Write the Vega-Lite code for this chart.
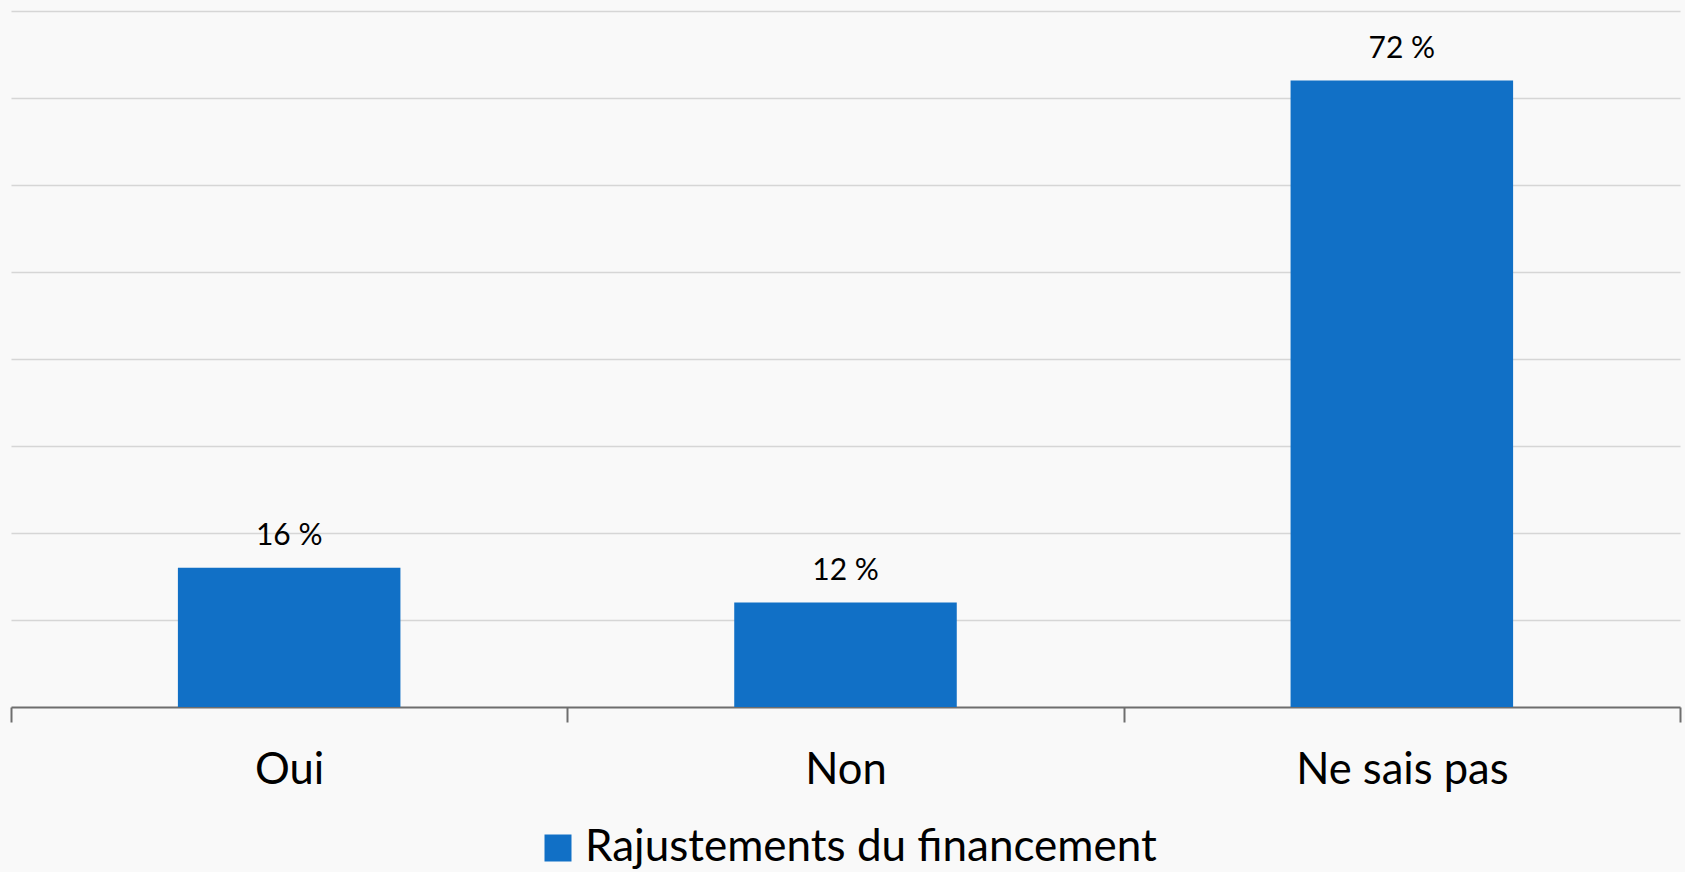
{
  "$schema": "https://vega.github.io/schema/vega-lite/v6.json",
  "width": 1669,
  "height": 696,
  "autosize": {"type": "none"},
  "padding": {"left": 11, "top": 11, "right": 5, "bottom": 165},
  "background": "#f9f9f9",
  "config": {"view": {"stroke": null}, "font": "Lato"},
  "data": {
    "values": [
      {"reponse": "Oui", "pct": 16, "label": "16 %", "serie": "Rajustements du financement"},
      {"reponse": "Non", "pct": 12, "label": "12 %", "serie": "Rajustements du financement"},
      {"reponse": "Ne sais pas", "pct": 72, "label": "72 %", "serie": "Rajustements du financement"}
    ]
  },
  "encoding": {
    "x": {
      "field": "reponse",
      "type": "nominal",
      "sort": null,
      "scale": {"paddingInner": 0, "paddingOuter": 0},
      "axis": {
        "title": null,
        "labelAngle": 0,
        "labelFont": "Lato",
        "labelFontSize": 43.5,
        "labelColor": "#000000",
        "labelBaseline": "alphabetic",
        "labelPadding": 61.6,
        "labelLimit": 1000,
        "tickSize": 15,
        "tickColor": "#6e6e6e",
        "tickWidth": 2,
        "domainColor": "#6e6e6e",
        "domainWidth": 2,
        "tickBand": "extent",
        "grid": false
      }
    },
    "y": {
      "field": "pct",
      "type": "quantitative",
      "scale": {"domain": [0, 80], "nice": false},
      "axis": {
        "values": [10, 20, 30, 40, 50, 60, 70, 80],
        "grid": true,
        "gridColor": "#d6d6d6",
        "gridWidth": 1.5,
        "domain": false,
        "ticks": false,
        "labels": false,
        "title": null
      }
    }
  },
  "layer": [
    {
      "mark": {"type": "bar", "width": {"band": 0.4}},
      "encoding": {
        "color": {
          "field": "serie",
          "type": "nominal",
          "scale": {"range": ["#1170c6"]},
          "legend": {
            "orient": "none",
            "legendX": 525,
            "legendY": 815,
            "title": null,
            "padding": 0,
            "symbolType": "square",
            "symbolSize": 729,
            "symbolStrokeWidth": 0,
            "symbolOpacity": 1,
            "labelFont": "Lato",
            "labelFontSize": 44,
            "labelColor": "#000000",
            "labelOffset": 5,
            "labelLimit": 1000
          }
        }
      }
    },
    {
      "mark": {"type": "text", "baseline": "alphabetic", "dy": -23, "fontSize": 30, "font": "Lato", "color": "#000000"},
      "encoding": {"text": {"field": "label"}}
    }
  ]
}
